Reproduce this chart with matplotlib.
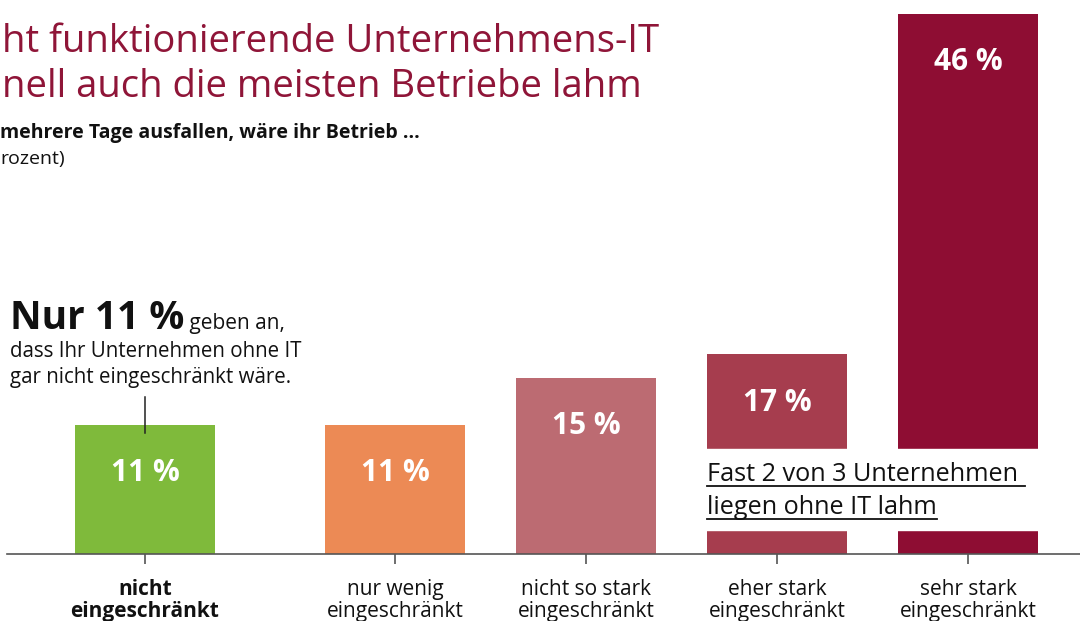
import numpy as np
import matplotlib.pyplot as plt
from matplotlib.lines import Line2D

# Data
categories = ["nicht\neingeschränkt", "nur wenig\neingeschränkt", "nicht so stark\neingeschränkt",
              "eher stark\neingeschränkt", "sehr stark\neingeschränkt"]
values = [11, 11, 15, 17, 46]
value_labels = ["11 %", "11 %", "15 %", "17 %", "46 %"]
colors = ["#7fba3b", "#ec8a55", "#bc6b72", "#a63d4e", "#8e0d33"]

title_lines = ["ht funktionierende Unternehmens-IT", "nell auch die meisten Betriebe lahm"]
subtitle_bold = "mehrere Tage ausfallen, wäre ihr Betrieb ..."
subtitle = "rozent)"
note_big = "Nur 11 %"
note_small = " geben an,"
note_rest = ["dass Ihr Unternehmen ohne IT", "gar nicht eingeschränkt wäre."]
callout = ["Fast 2 von 3 Unternehmen ", "liegen ohne IT lahm"]

W, H = 1080, 621
FONT = "Open Sans"
plt.rcParams['font.family'] = [FONT, 'DejaVu Sans']

fig = plt.figure(figsize=(W / 100, H / 100), dpi=100)
ax = fig.add_axes([0, 0, 1, 1])

# layout: pixel helpers
px_per_pct = 11.74
base_px = 554
pos = np.array([0, 1.31, 2.31, 3.31, 4.31])
unit = 191.0
width = 140 / unit
ax.set_xlim(-145 / unit, (W - 145) / unit)
ax.set_ylim(-(H - base_px) / px_per_pct, base_px / px_per_pct)
ax.axis("off")


def fx(x):
    return x / W


def fy(y):
    return 1 - y / H


ax.bar(pos, values, width=width, color=colors, zorder=2)

for p, v, lab in zip(pos, values, value_labels):
    ax.text(p, v - 4.1, lab, ha="center", va="center", color="white",
            fontsize=21.5, fontweight="bold", zorder=4)

# white gap over the last two bars for the callout
gap_lo = (base_px - 530) / px_per_pct
gap_hi = (base_px - 449) / px_per_pct
ax.fill_between([pos[3] - width / 2 - 0.02, pos[4] + width / 2 + 0.02], gap_lo, gap_hi,
                color="white", zorder=3)

# baseline and ticks
ax.plot([7 / unit - 145 / unit, (W - 145) / unit], [0, 0], color="#555555", lw=1.2, zorder=5)
ax.vlines(pos, -0.85, 0, color="#555555", lw=1.2, zorder=5)

for i, (p, c) in enumerate(zip(pos, categories)):
    ax.text(p, -3.95, c, ha="center", va="center", fontsize=15, linespacing=1.05,
            color="#111111", fontweight="bold" if i == 0 else "normal")

# annotation pointer for first bar
ax.plot([pos[0], pos[0]], [(base_px - 397) / px_per_pct, (base_px - 433) / px_per_pct],
        color="#222222", lw=1.1, zorder=5)

# title and subtitle
title_color = "#8f1538"
fig.text(fx(2), fy(52), title_lines[0], fontsize=27.5, color=title_color, va="baseline")
fig.text(fx(2), fy(97), title_lines[1], fontsize=27.5, color=title_color, va="baseline")
fig.text(fx(0), fy(138), subtitle_bold, fontsize=14, fontweight="bold", color="#111111", va="baseline")
fig.text(fx(0), fy(164), subtitle, fontsize=14, color="#111111", va="baseline")

# note on the left
t_big = fig.text(fx(10), fy(329), note_big, fontsize=28, fontweight="bold", color="#111111", va="baseline")
fig.canvas.draw()
r = fig.canvas.get_renderer()
bb = t_big.get_window_extent(r)
fig.text(bb.x1 / W, fy(329), note_small, fontsize=15, color="#111111", va="baseline")
for line, y in zip(note_rest, [357, 383]):
    fig.text(fx(10), fy(y), line, fontsize=14.8, color="#111111", va="baseline")

# underlined callout
for line, y in zip(callout, [481, 514]):
    t = fig.text(fx(707), fy(y), line, fontsize=18.2, color="#111111", va="baseline")
    fig.canvas.draw()
    b = t.get_window_extent(fig.canvas.get_renderer())
    fig.add_artist(Line2D([b.x0 / W, b.x1 / W], [fy(y + 5), fy(y + 5)], color="#111111", lw=1.3))

fig.savefig("out.png", dpi=100)
